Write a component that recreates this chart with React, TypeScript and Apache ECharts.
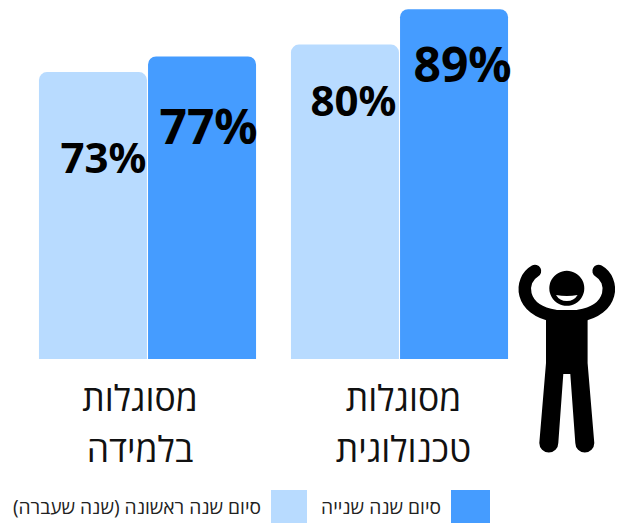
import React, { useEffect, useRef } from "react";
import * as echarts from "echarts";

const categories = ["מסוגלות\nטכנולוגית", "מסוגלות\nבלמידה"];
const seriesSecondName = "סיום שנה שנייה";
const seriesFirstName = "סיום שנה ראשונה (שנה שעברה)";
const secondYearValues = [89, 77];
const firstYearValues = [80, 73];

const DARK = "#459CFF";
const LIGHT = "#B8DBFF";
const FONT = "'Open Sans', sans-serif";
const VALUE_FONT = "'Noto Sans', 'Open Sans', sans-serif";

const secondLabelStyle = [
  { distance: 30, offset: [8.5, 0] },
  { distance: 45, offset: [6.5, 0] },
];
const firstLabelStyle = [
  { distance: 34, offset: [8.5, 0] },
  { distance: 63, offset: [10.5, 0] },
];

const CX = 566.8;
const figureBody =
  "M546,310 L587.6,310 L587.6,363 L594.3,443 A9.5,9.5 0 0 1 575.3,443 L570.3,374 L563.3,374 L558.3,443 A9.5,9.5 0 0 1 539.3,443 L546,363 Z";
const figureSmile = "M556,295 Q567,297 577.6,295 Q574,301 566.8,301 Q559.6,301 556,295 Z";

echarts.graphic.registerShape("figureBody", echarts.graphic.extendPath(figureBody, {}));
echarts.graphic.registerShape("figureSmile", echarts.graphic.extendPath(figureSmile, {}));

function arm(side: number) {
  const m = (x: number) => CX + side * (x - CX);
  return {
    type: "bezierCurve",
    silent: true,
    shape: {
      x1: m(535), y1: 271,
      cpx1: m(519), cpy1: 280,
      cpx2: m(519), cpy2: 310,
      x2: m(555), y2: 316,
    },
    style: { stroke: "#000", lineWidth: 12.5, lineCap: "round", fill: "none" },
  };
}

export default function App() {
  const ref = useRef<HTMLDivElement>(null);
  useEffect(() => {
    document.body.style.margin = "0";
    const chart = echarts.init(ref.current!, null, { renderer: "svg" });
    const makeLabel = (size: number, s: { distance: number; offset: number[] }) => ({
      show: true,
      position: "insideTop",
      distance: s.distance,
      offset: s.offset,
      fontSize: size,
      fontWeight: 700,
      fontFamily: VALUE_FONT,
      color: "#000",
      formatter: "{c}%",
    });
    const axisRich = { fontFamily: FONT, fontSize: 35.5, lineHeight: 50.5, color: "#111" };
    chart.setOption({
      animation: false,
      backgroundColor: "#fff",
      grid: { left: 21.5, right: 100.5, top: 5.3, height: 353.7 },
      legend: [
        {
          data: [seriesSecondName],
          top: 490,
          right: 136,
          align: "right",
          itemWidth: 39,
          itemHeight: 33,
          icon: "rect",
          selectedMode: false,
          padding: 0,
          textStyle: { fontFamily: FONT, fontSize: 19.2, color: "#222", padding: [0, 5, 2, 0] },
        },
        {
          data: [seriesFirstName],
          top: 490,
          right: 319,
          align: "right",
          itemWidth: 36,
          itemHeight: 33,
          icon: "rect",
          selectedMode: false,
          padding: 0,
          textStyle: { fontFamily: FONT, fontSize: 19.2, color: "#222", padding: [0, 5, 2, 0] },
        },
      ],
      xAxis: {
        type: "category",
        inverse: true,
        data: categories,
        axisLine: { show: false },
        axisTick: { show: false },
        axisLabel: {
          interval: 0,
          margin: 13,
          formatter: (v: string, i: number) =>
            v
              .split("\n")
              .map((line) => `{${i === 0 ? "r" : "l"}|${line}}`)
              .join("\n"),
          rich: {
            r: { ...axisRich, padding: [0, 0, 0, 8] },
            l: { ...axisRich, padding: [0, 15, 0, 0] },
          },
        },
      },
      yAxis: { type: "value", min: 0, max: 90, show: false },
      series: [
        {
          name: seriesFirstName,
          type: "bar",
          barWidth: 108,
          barGap: "1%",
          itemStyle: { color: LIGHT, borderRadius: [8, 8, 0, 0] },
          data: firstYearValues.map((value, i) => ({ value, label: makeLabel(42, firstLabelStyle[i]) })),
        },
        {
          name: seriesSecondName,
          type: "bar",
          barWidth: 108,
          barGap: "1%",
          itemStyle: { color: DARK, borderRadius: [8, 8, 0, 0] },
          data: secondYearValues.map((value, i) => ({ value, label: makeLabel(48, secondLabelStyle[i]) })),
        },
      ],
      graphic: [
        { type: "circle", silent: true, shape: { cx: CX, cy: 288.3, r: 17.5 }, style: { fill: "#000" } },
        { type: "figureSmile", silent: true, style: { fill: "#fff" } },
        { type: "figureBody", silent: true, style: { fill: "#000" } },
        arm(1),
        arm(-1),
      ],
    });
    return () => chart.dispose();
  }, []);
  return <div ref={ref} style={{ position: "absolute", left: 0, top: 0, width: 626, height: 523 }} />;
}
